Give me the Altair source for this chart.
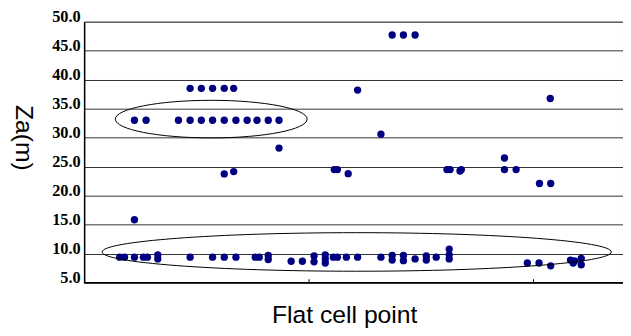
import altair as alt
import pandas as pd

# ---- data ----
# lower band (around 8-11 m)
low_x = [7.9, 9.0, 11.2, 13.2, 14.1, 16.4, 16.4, 23.6, 28.6, 31.2, 33.8, 38.1, 39.0,
         41.0, 41.0, 46.1, 48.6, 51.2, 51.2, 53.7, 53.7, 53.7, 55.5, 56.4, 58.4, 60.9,
         66.1, 68.6, 68.6, 71.1, 71.1, 73.7, 76.2, 76.2, 78.4, 81.3, 81.3, 81.3,
         98.7, 101.3, 103.9, 108.3, 109.2, 108.9, 110.7, 110.7]
low_y = [9.4, 9.4, 9.4, 9.4, 9.4, 9.8, 9.1, 9.4, 9.4, 9.4, 9.4, 9.4, 9.4,
         9.7, 9.0, 8.7, 8.7, 9.6, 8.6, 9.8, 9.1, 8.4, 9.4, 9.4, 9.4, 9.4,
         9.4, 9.7, 8.9, 9.7, 8.8, 9.1, 9.6, 8.9, 9.4, 10.8, 9.8, 9.1,
         8.4, 8.4, 7.9, 8.9, 8.75, 8.4, 9.2, 8.1]

# upper points
up_x = [11.2,
        11.2, 13.8, 21.0, 23.6, 26.1, 28.6, 31.2, 33.8, 36.3, 38.5, 41.0, 43.4,
        23.6, 26.1, 28.6, 31.2, 33.3,
        43.4, 31.2, 33.3,
        68.6, 71.1, 73.7,
        60.9, 103.8, 66.1,
        55.7, 56.4, 58.8,
        80.8, 81.5, 83.7, 84.0,
        93.6, 93.6, 96.2, 101.4, 103.9]
up_y = [15.85,
        33.0, 33.0, 33.0, 33.0, 33.0, 33.0, 33.0, 33.0, 33.0, 33.0, 33.0, 33.0,
        38.5, 38.5, 38.5, 38.5, 38.5,
        28.2, 23.75, 24.15,
        47.7, 47.7, 47.7,
        38.2, 36.75, 30.6,
        24.5, 24.5, 23.8,
        24.5, 24.5, 24.25, 24.5,
        26.5, 24.5, 24.5, 22.1, 22.1]

# annotation ellipses: centre (x, y), half-width in px, height/width ratio
ell_cx = [28.3, 60.7]
ell_cy = [33.2, 10.3]
ell_rx = [97, 257.5]
ell_ratio = [0.196, 0.0757]

y_ticks = [5, 10, 15, 20, 25, 30, 35, 40, 45, 50]
x_ticks = [50, 100]

pts = pd.DataFrame({"x": low_x + up_x, "y": low_y + up_y})

W, H = 545, 264
xs = alt.Scale(domain=[0, 120], nice=False, zero=False)
ys = alt.Scale(domain=[5, 50], nice=False, zero=False)

x_axis = alt.Axis(
    values=x_ticks, labels=False, grid=False, domain=False,
    ticks=True, tickSize=4, tickColor="black", offset=-4,
    title="Flat cell point", titleFont="Liberation Sans", titleFontSize=25,
    titleFontWeight="normal", titleColor="black",
    titleX=263, titleY=44, titleAlign="center", titleBaseline="alphabetic",
)
y_axis = alt.Axis(
    values=y_ticks, format=".1f", grid=True, gridColor="#333", gridWidth=1,
    domain=True, domainColor="black", domainWidth=1.5, ticks=False,
    labelFont="Liberation Serif", labelFontWeight="bold", labelFontSize=16.5,
    labelColor="black", labelPadding=4, labelBaseline="middle", labelOffset=-5.5,
    labelOverlap=False, labelFlush=False, labelBound=False,
    title="Za(m)", titleFont="Liberation Sans", titleFontSize=25,
    titleFontWeight="normal", titleColor="black", titleAngle=90,
    titleX=-61, titleY=117, titleAlign="center", titleBaseline="middle",
)

X = alt.X("x:Q", scale=xs, axis=x_axis)
Y = alt.Y("y:Q", scale=ys, axis=y_axis)

points = alt.Chart(pts).mark_circle(color="#000080", opacity=1, size=55).encode(
    x=X, y=Y
)

bottom = alt.Chart(pd.DataFrame({"y": [5]})).mark_rule(
    color="black", strokeWidth=1.5
).encode(y=Y)

ell_layers = []
for cx, cy, rx, r in zip(ell_cx, ell_cy, ell_rx, ell_ratio):
    path = f"M -1 0 A 1 {r} 0 1 0 1 0 A 1 {r} 0 1 0 -1 0 Z"
    e = alt.Chart(pd.DataFrame({"x": [cx], "y": [cy]})).mark_point(
        shape=path, filled=False, stroke="black", strokeWidth=1, opacity=1,
        size=(2 * rx) ** 2,
    ).encode(x=X, y=Y)
    ell_layers.append(e)

chart = alt.layer(points, bottom, *ell_layers).properties(
    width=W, height=H,
    autosize=alt.AutoSizeParams(type="none"),
    padding={"left": 77, "top": 12, "right": 0, "bottom": 44},
    background="white",
).configure_view(stroke="#999", strokeWidth=1)

chart.save("out.html", embed_options={"renderer": "svg", "actions": False})
